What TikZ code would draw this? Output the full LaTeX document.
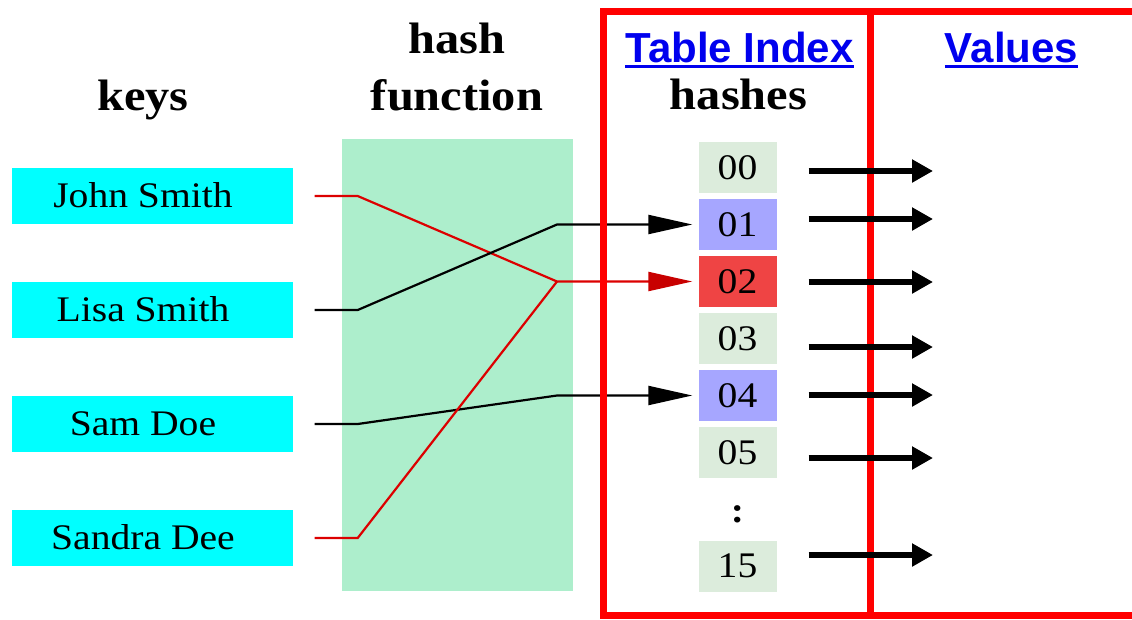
\documentclass[tikz,border=0pt]{standalone}
\usepackage{fontspec}
\setmainfont{Liberation Serif}[FakeStretch=1.1]
\newfontfamily\hsans{Liberation Sans}
\usetikzlibrary{arrows.meta}
\definecolor{keycyan}{RGB}{0,255,255}
\definecolor{hashgreen}{RGB}{173,238,204}
\definecolor{slotgreen}{RGB}{220,236,220}
\definecolor{slotblue}{RGB}{166,166,255}
\definecolor{slotred}{RGB}{239,68,68}
\definecolor{linkred}{RGB}{220,0,0}
\definecolor{headred}{RGB}{200,0,0}
\definecolor{framered}{RGB}{255,0,0}
\definecolor{linkblue}{RGB}{0,0,238}
\begin{document}
\begin{tikzpicture}[x=1pt,y=-1pt,
  keybox/.style={fill=keycyan, minimum width=281pt, minimum height=56pt, inner sep=0pt},
  keytext/.style={anchor=base, inner sep=0pt, font=\fontsize{36}{40}\selectfont},
  heading/.style={anchor=base, inner sep=0pt, font=\fontsize{44}{48}\selectfont\bfseries},
  sansheading/.style={anchor=base, inner sep=0pt, text=linkblue, font=\hsans\fontsize{42}{46}\selectfont\bfseries},
  slot/.style={minimum width=78pt, minimum height=51pt, inner sep=0pt, font=\fontsize{36}{40}\selectfont},
  link/.style={line width=2.2pt, shorten >=6pt},
  blacktip/.style={-{Triangle[length=44pt,width=19pt]}},
  redtip/.style={-{Triangle[length=44pt,width=19pt,color=headred]}},
  valarrow/.style={line width=6.5pt, shorten <=32pt, -{Triangle[length=21pt,width=22pt]}},
  frame/.style={framered, line width=7pt}
]
\useasboundingbox (0,0) rectangle (1132,619);

% headings
\node[heading] (hkeys) at (143,110) {keys};
\node[heading] (hhash) at (457,53) {hash};
\node[heading] (hfunc) at (457,110) {function};
\node[heading] (hhashes) at (738.5,109) {hashes};
\node[sansheading] (ti) at (739.5,62.5) {Table Index};
\node[sansheading] (vals) at (1011.5,62) {Values};
\draw[linkblue, line width=3pt] ([yshift=-4pt]ti.base west) -- ([yshift=-4pt]ti.base east);
\draw[linkblue, line width=3pt] ([yshift=-4pt]vals.base west) -- ([yshift=-4pt]vals.base east);

% hash function area
\node[fill=hashgreen, minimum width=231pt, minimum height=452pt, inner sep=0pt] (hf) at (457.5,365) {};

% keys
\node[keybox] (kjs) at (152,196) {};
\node[keybox] (kls) at (152,310) {};
\node[keybox] (ksd) at (152,424) {};
\node[keybox] (ksa) at (152,538) {};
\node[keytext] (tjs) at (143,207) {John Smith};
\node[keytext] (tls) at (143,321) {Lisa Smith};
\node[keytext] (tsd) at (143,435) {Sam Doe};
\node[keytext] (tsa) at (143,549) {Sandra Dee};

% slots
\node[slot, fill=slotgreen] (h00) at (737.5,167.5) {00};
\node[slot, fill=slotblue]  (h01) at (737.5,224.5) {01};
\node[slot, fill=slotred]   (h02) at (737.5,281.5) {02};
\node[slot, fill=slotgreen] (h03) at (737.5,338.5) {03};
\node[slot, fill=slotblue]  (h04) at (737.5,395.5) {04};
\node[slot, fill=slotgreen] (h05) at (737.5,452.5) {05};
\node[anchor=base, inner sep=0pt, font=\fontsize{36}{40}\selectfont\bfseries] (dots) at (737.5,522) {:};
\node[slot, fill=slotgreen] (h15) at (737.5,566) {15};

% links through the hash function
\coordinate (bend) at (557,0);
\draw[link, linkred, redtip] ([xshift=22pt]kjs.east) -- ++(43,0) -- (bend |- h02.west) -- (h02.west);
\draw[link, black, blacktip] ([xshift=22pt]kls.east) -- ++(43,0) -- (bend |- h01.west) -- (h01.west);
\draw[link, black, blacktip] ([xshift=22pt]ksd.east) -- ++(43,0) -- (bend |- h04.west) -- (h04.west);
\draw[line width=2.2pt, linkred] ([xshift=22pt]ksa.east) -- ++(43,0) -- (bend |- h02.west);

% frame
\draw[frame] (1136,11) -- (603.5,11) -- (603.5,615.5) -- (1136,615.5);
\draw[frame] (870.5,11) -- (870.5,615.5);

% arrows to values
\coordinate (v00) at (933,171);
\coordinate (v01) at (933,219);
\coordinate (v02) at (933,282);
\coordinate (v03) at (933,347);
\coordinate (v04) at (933,395);
\coordinate (v05) at (933,458);
\coordinate (v15) at (933,555);
\draw[valarrow] (h00.east |- v00) -- (v00);
\draw[valarrow] (h01.east |- v01) -- (v01);
\draw[valarrow] (h02.east |- v02) -- (v02);
\draw[valarrow] (h03.east |- v03) -- (v03);
\draw[valarrow] (h04.east |- v04) -- (v04);
\draw[valarrow] (h05.east |- v05) -- (v05);
\draw[valarrow] (h15.east |- v15) -- (v15);
\end{tikzpicture}
\end{document}
